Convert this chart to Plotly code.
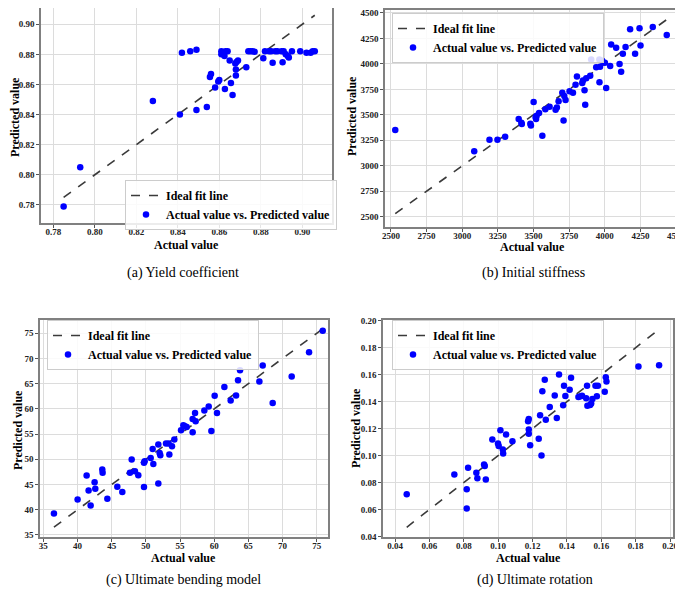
import plotly.graph_objects as go

# ---------------- data ----------------
a_actual = [0.785, 0.793, 0.828, 0.841, 0.842, 0.846, 0.849, 0.849, 0.854, 0.8555,
            0.856, 0.858, 0.8595, 0.860, 0.861, 0.861, 0.862, 0.8625, 0.863, 0.864,
            0.8627, 0.865, 0.8656, 0.8664, 0.8677, 0.8683, 0.868, 0.868, 0.869, 0.873,
            0.874, 0.875, 0.876, 0.877, 0.8812, 0.882, 0.884, 0.885, 0.887, 0.888,
            0.890, 0.891, 0.8857, 0.8905, 0.892, 0.893, 0.8935, 0.895, 0.899, 0.902,
            0.904, 0.905, 0.906]
a_pred = [0.779, 0.805, 0.849, 0.840, 0.881, 0.882, 0.883, 0.843, 0.845, 0.865,
          0.867, 0.858, 0.862, 0.863, 0.882, 0.880, 0.881, 0.879, 0.882, 0.882,
          0.857, 0.876, 0.861, 0.853, 0.874, 0.875, 0.866, 0.870, 0.876, 0.8715,
          0.882, 0.882, 0.882, 0.8818, 0.8775, 0.882, 0.882, 0.882, 0.882, 0.882,
          0.882, 0.882, 0.8745, 0.8748, 0.880, 0.879, 0.878, 0.882, 0.882, 0.881,
          0.881, 0.882, 0.882]

b_actual = [2530, 3084, 3191, 3247, 3301, 3396, 3415, 3418, 3478, 3482, 3501, 3515,
            3518, 3522, 3539, 3562, 3583, 3613, 3655, 3664, 3676, 3702, 3716, 3711,
            3725, 3753, 3777, 3795, 3805, 3842, 3847, 3858, 3863, 3870, 3898, 3905,
            3963, 3940, 3967, 3962, 3982, 4001, 4010, 4038, 4045, 4104, 4080, 4115,
            4127, 4146, 4178, 4213, 4244, 4251, 4337, 4435]
b_pred = [3350, 3143, 3255, 3255, 3284, 3460, 3422, 3410, 3412, 3396, 3627, 3476,
          3460, 3492, 3518, 3294, 3556, 3579, 3550, 3572, 3633, 3716, 3684, 3444,
          3646, 3732, 3716, 3796, 3876, 3812, 3838, 3742, 3598, 3860, 3883, 4043,
          3819, 3967, 3972, 4043, 4030, 4011, 3764, 3979, 4190, 3998, 4159, 3924,
          4100, 4165, 4340, 4100, 4350, 4180, 4363, 4283]

c_actual = [36.56, 40.02, 41.34, 41.63, 41.93, 42.51, 42.61, 43.63, 43.68, 44.37,
            45.83, 46.56, 47.68, 47.93, 48.41, 48.90, 49.73, 49.83, 49.73, 50.71,
            51.00, 51.10, 51.83, 51.83, 52.02, 52.12, 52.95, 53.34, 53.44, 53.83,
            54.17, 55.15, 55.49, 55.73, 55.98, 56.85, 56.85, 57.20, 57.29, 58.56,
            59.20, 59.59, 60.07, 60.41, 61.49, 62.41, 63.20, 63.49, 63.78, 66.61,
            67.10, 68.56, 71.34, 73.88, 75.88]
c_pred = [39.28, 42.05, 46.79, 43.83, 40.86, 45.47, 44.16, 47.98, 47.32, 42.18,
          44.55, 43.50, 47.32, 49.95, 47.65, 46.86, 49.30, 49.62, 44.49, 50.28,
          52.06, 49.10, 52.92, 45.21, 51.27, 50.81, 53.12, 53.12, 50.94, 52.59,
          53.91, 55.75, 56.74, 56.54, 56.41, 57.99, 55.36, 59.18, 57.53, 59.70,
          60.49, 55.62, 62.60, 59.18, 64.32, 61.68, 62.67, 65.70, 67.67, 65.43,
          68.60, 61.15, 66.42, 71.23, 75.51]

d_actual = [0.0468, 0.0745, 0.0817, 0.0817, 0.0825, 0.0873, 0.0879, 0.0918, 0.0922,
            0.0928, 0.0966, 0.0999, 0.1003, 0.1013, 0.1027, 0.1029, 0.1046, 0.1083,
            0.1174, 0.1178, 0.1178, 0.1178, 0.1186, 0.1236, 0.1244, 0.1252, 0.1257,
            0.1271, 0.1277, 0.1300, 0.1329, 0.1341, 0.1354, 0.1378, 0.1383, 0.1391,
            0.1416, 0.1424, 0.1467, 0.1480, 0.1488, 0.1512, 0.1517, 0.1519, 0.1535,
            0.1541, 0.1548, 0.1566, 0.1574, 0.1580, 0.1620, 0.1626, 0.1630, 0.1816,
            0.1936]
d_pred = [0.0713, 0.0860, 0.0750, 0.0607, 0.0910, 0.0873, 0.0831, 0.0934, 0.0922,
          0.0823, 0.1119, 0.1089, 0.1070, 0.1188, 0.1045, 0.1015, 0.1156, 0.1106,
          0.1254, 0.1271, 0.1193, 0.1161, 0.1077, 0.1124, 0.1298, 0.1001, 0.1476,
          0.1562, 0.1266, 0.1360, 0.1446, 0.1279, 0.1601, 0.1372, 0.1518, 0.1441,
          0.1488, 0.1577, 0.1434, 0.1439, 0.1444, 0.1424, 0.1518, 0.1370, 0.1375,
          0.1385, 0.1419, 0.1518, 0.1439, 0.1518, 0.1473, 0.1581, 0.1549, 0.1660,
          0.1670]

captions = ["(a) Yield coefficient", "(b) Initial stiffness",
            "(c) Ultimate bending model", "(d) Ultimate rotation"]

# ---------------- layout geometry ----------------
# the page body has an 8px margin, so the figure is drawn 8px smaller and
# positions are given in window pixels minus that offset
OFF = 8
W, H = 683 - OFF, 596 - OFF
FONT = "Liberation Serif"

def px(x):
    return min(max((x - OFF) / W, 0.0), 1.0)

def py(y):
    return min(max(1 - (y - OFF) / H, 0.0), 1.0)

panels = [
    dict(data=(a_actual, a_pred), box=(41, 8, 332, 223),
         xr=[0.7741, 0.9143], yr=[0.768, 0.9108], fmt=".2f",
         xticks=[0.78 + 0.02 * i for i in range(7)], yticks=[0.78 + 0.02 * i for i in range(7)],
         leg=(125, 180), xt=(186, 245), yt=(15, 117), cap=(183, 273)),
    dict(data=(b_actual, b_pred), box=(385, 10, 680, 227),
         xr=[2458, 4528], yr=[2399, 4529], fmt="d",
         xticks=[2500 + 250 * i for i in range(9)], yticks=[2500 + 250 * i for i in range(9)],
         leg=(392, 13), xt=(532, 247), yt=(352, 116), cap=(533, 273)),
    dict(data=(c_actual, c_pred), box=(40, 320, 328, 537),
         xr=[34.52, 76.65], yr=[34.6, 77.63], fmt="d",
         xticks=[35 + 5 * i for i in range(9)], yticks=[35 + 5 * i for i in range(9)],
         leg=(47, 320), xt=(184, 558), yt=(18, 430), cap=(183, 580)),
    dict(data=(d_actual, d_pred), box=(383, 320, 673, 537),
         xr=[0.033, 0.2017], yr=[0.0396, 0.2005], fmt=".2f",
         xticks=[0.04 + 0.02 * i for i in range(9)], yticks=[0.04 + 0.02 * i for i in range(9)],
         leg=(392, 320), xt=(528, 558), yt=(356, 428), cap=(535, 580)),
]

fig = go.Figure()
layout = dict(width=W, height=H, margin=dict(l=0, r=0, t=0, b=0, autoexpand=False),
              paper_bgcolor="white", plot_bgcolor="white",
              font=dict(family=FONT, color="black"), annotations=[])

for i, p in enumerate(panels, start=1):
    sfx = "" if i == 1 else str(i)
    actual, pred = p["data"]
    lo, hi = min(actual), max(actual)
    legname = "legend" if i == 1 else f"legend{i}"
    fig.add_trace(go.Scatter(x=[lo, hi], y=[lo, hi], mode="lines",
                             line=dict(color="#3a3a3a", width=1.6, dash="dash"),
                             name="Ideal fit line", xaxis="x" + sfx, yaxis="y" + sfx,
                             legend=legname))
    fig.add_trace(go.Scatter(x=actual, y=pred, mode="markers",
                             marker=dict(color="#0000ff", size=6.5, line=dict(width=0)),
                             name="Actual value vs. Predicted value",
                             xaxis="x" + sfx, yaxis="y" + sfx, legend=legname))
    x0, y0, x1, y1 = p["box"]
    common = dict(showgrid=True, gridcolor="#dcdcdc", gridwidth=1,
                  showline=True, linecolor="#808080", linewidth=1.5, mirror=True,
                  ticks="outside", ticklen=3, tickcolor="#555",
                  tickfont=dict(family=FONT, size=9, weight="bold", color="#222"),
                  zeroline=False, tickformat=p["fmt"])
    layout["xaxis" + sfx] = dict(common, domain=[px(x0), px(x1)], range=p["xr"],
                                 tickvals=p["xticks"], anchor="y" + sfx,
                                 ticklabelstandoff=-4, ticklabeloverflow="allow")
    layout["yaxis" + sfx] = dict(common, domain=[py(y1), py(y0)], range=p["yr"],
                                 tickvals=p["yticks"], anchor="x" + sfx,
                                 ticklabeloverflow="allow")
    lx, ly = p["leg"]
    layout[legname] = dict(x=px(lx), y=py(ly), xanchor="left", yanchor="top",
                           bgcolor="rgba(255,255,255,0.85)", bordercolor="#cccccc",
                           borderwidth=1, font=dict(family=FONT, size=12, weight="bold"),
                           tracegroupgap=0, itemwidth=30)
    tx, ty = p["xt"]
    layout["annotations"].append(dict(text="<b>Actual value</b>", x=px(tx), y=py(ty),
                                      xref="paper", yref="paper", showarrow=False,
                                      xanchor="center", yanchor="middle",
                                      font=dict(family=FONT, size=12)))
    yx, yy = p["yt"]
    layout["annotations"].append(dict(text="<b>Predicted value</b>", x=px(yx), y=py(yy),
                                      xref="paper", yref="paper", showarrow=False,
                                      xanchor="center", yanchor="middle",
                                      textangle=-90, font=dict(family=FONT, size=12)))
    cx, cy = p["cap"]
    layout["annotations"].append(dict(text=captions[i - 1], x=px(cx), y=py(cy),
                                      xref="paper", yref="paper", showarrow=False,
                                      xanchor="center", yanchor="middle",
                                      font=dict(family=FONT, size=14)))

fig.update_layout(**layout)
fig.write_html("out.html")
